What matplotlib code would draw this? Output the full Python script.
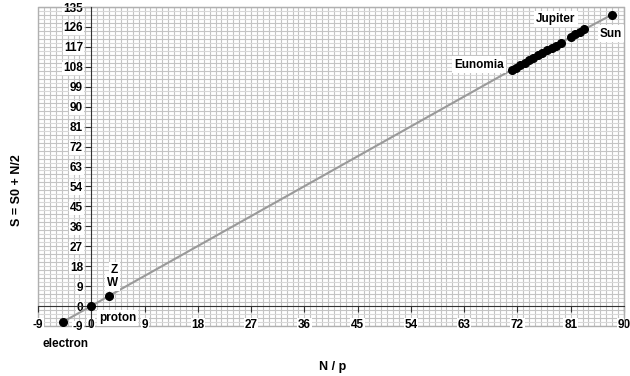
import matplotlib
matplotlib.use("Agg")
import numpy as np
import matplotlib.pyplot as plt

plt.rcParams['font.family'] = ['Liberation Sans', 'DejaVu Sans']

# N/p and S values of the bodies
n_p = [-4.7, 0.0, 3.0,
       71.0, 71.7, 72.4, 73.2, 74.0, 74.7, 75.4, 76.2, 77.0, 77.8, 78.5, 79.3,
       81.0, 81.8, 82.6, 83.3,
       88.0]
s_val = [-7.0, 0.0, 4.6,
         106.6, 107.4, 108.8, 109.6, 111.2, 111.9, 113.3, 114.1, 115.6, 116.5, 117.6, 118.9,
         121.4, 122.8, 123.8, 124.9,
         131.6]

x_ticks = [-9, 0, 9, 18, 27, 36, 45, 54, 63, 72, 81, 90]
y_ticks = [-9, 0, 9, 18, 27, 36, 45, 54, 63, 72, 81, 90, 99, 108, 117, 126, 135]

fig = plt.figure(figsize=(6.3, 3.76), dpi=100)
ax = fig.add_axes([38/630, 1 - 326/376, (624 - 38)/630, (326 - 7)/376])
ax.set_xlim(-9, 90)
ax.set_ylim(-9, 135)

# graph-paper grid drawn beneath everything
for gx in np.arange(-9, 90.01, 1.0):
    ax.axvline(gx, color='#c4c4c4', lw=0.8, zorder=0.1)
for i, gy in enumerate(np.arange(-9, 135.01, 1.8)):
    ax.axhline(gy, color='#c4c4c4' if i % 2 == 0 else '#d8d8d8', lw=0.8, zorder=0.1)

# crossing axes at the origin, light frame around the plot area
for side in ['top', 'right']:
    ax.spines[side].set_color('#b0b0b0')
ax.spines['left'].set_position(('data', 0))
ax.spines['bottom'].set_position(('data', 0))
ax.spines['left'].set_color('#333333')
ax.spines['bottom'].set_color('#333333')
ax.spines['left'].set_zorder(3)
ax.spines['bottom'].set_zorder(3)
ax.plot([0, 0, 1, 1, 0], [0, 1, 1, 0, 0], transform=ax.transAxes, color='#b0b0b0',
        lw=1.0, clip_on=False, zorder=0.2)

ax.set_axisbelow(True)
ax.set_xticks(x_ticks)
ax.set_yticks(y_ticks)
ax.set_xticklabels([str(v) for v in x_ticks], fontsize=8.5, fontweight='bold')
ax.set_yticklabels([str(v) for v in y_ticks], fontsize=8.5, fontweight='bold')
ax.tick_params(which='major', direction='out', length=4, width=0.8, color='#333333', pad=2)
ax.tick_params(axis='x', pad=5)
for lbl in ax.get_xticklabels() + ax.get_yticklabels():
    lbl.set_bbox(dict(facecolor='white', edgecolor='none', pad=0.5))

ax.plot(n_p, s_val, color='#9a9a9a', lw=1.5, zorder=4)
ax.plot(n_p, s_val, 'o', color='black', ms=5.5, zorder=5, linestyle='none')

box = dict(facecolor='white', edgecolor='none', pad=1.5)
txt = dict(fontsize=8.5, fontweight='bold', zorder=6, bbox=box)
ax.text(3.9, 16.2, 'Z', ha='center', va='center', **txt)
ax.text(3.6, 10.6, 'W', ha='center', va='center', **txt)
ax.text(4.4, -5.4, 'proton', ha='center', va='center', **txt)
ax.text(-4.4, -17.0, 'electron', ha='center', va='center', **txt)
ax.text(65.5, 109.0, 'Eunomia', ha='center', va='center', **txt)
ax.text(78.5, 129.5, 'Jupiter', ha='center', va='center', **txt)
ax.text(87.8, 123.0, 'Sun', ha='center', va='center', **txt)

fig.text(333/630, 1 - 367/376, 'N / p', ha='center', va='center',
         fontsize=9, fontweight='bold')
fig.text(17/630, 1 - 190/376, 'S = S0 + N/2', ha='center', va='center',
         rotation=90, fontsize=9, fontweight='bold')

fig.savefig('out.png', dpi=100)
